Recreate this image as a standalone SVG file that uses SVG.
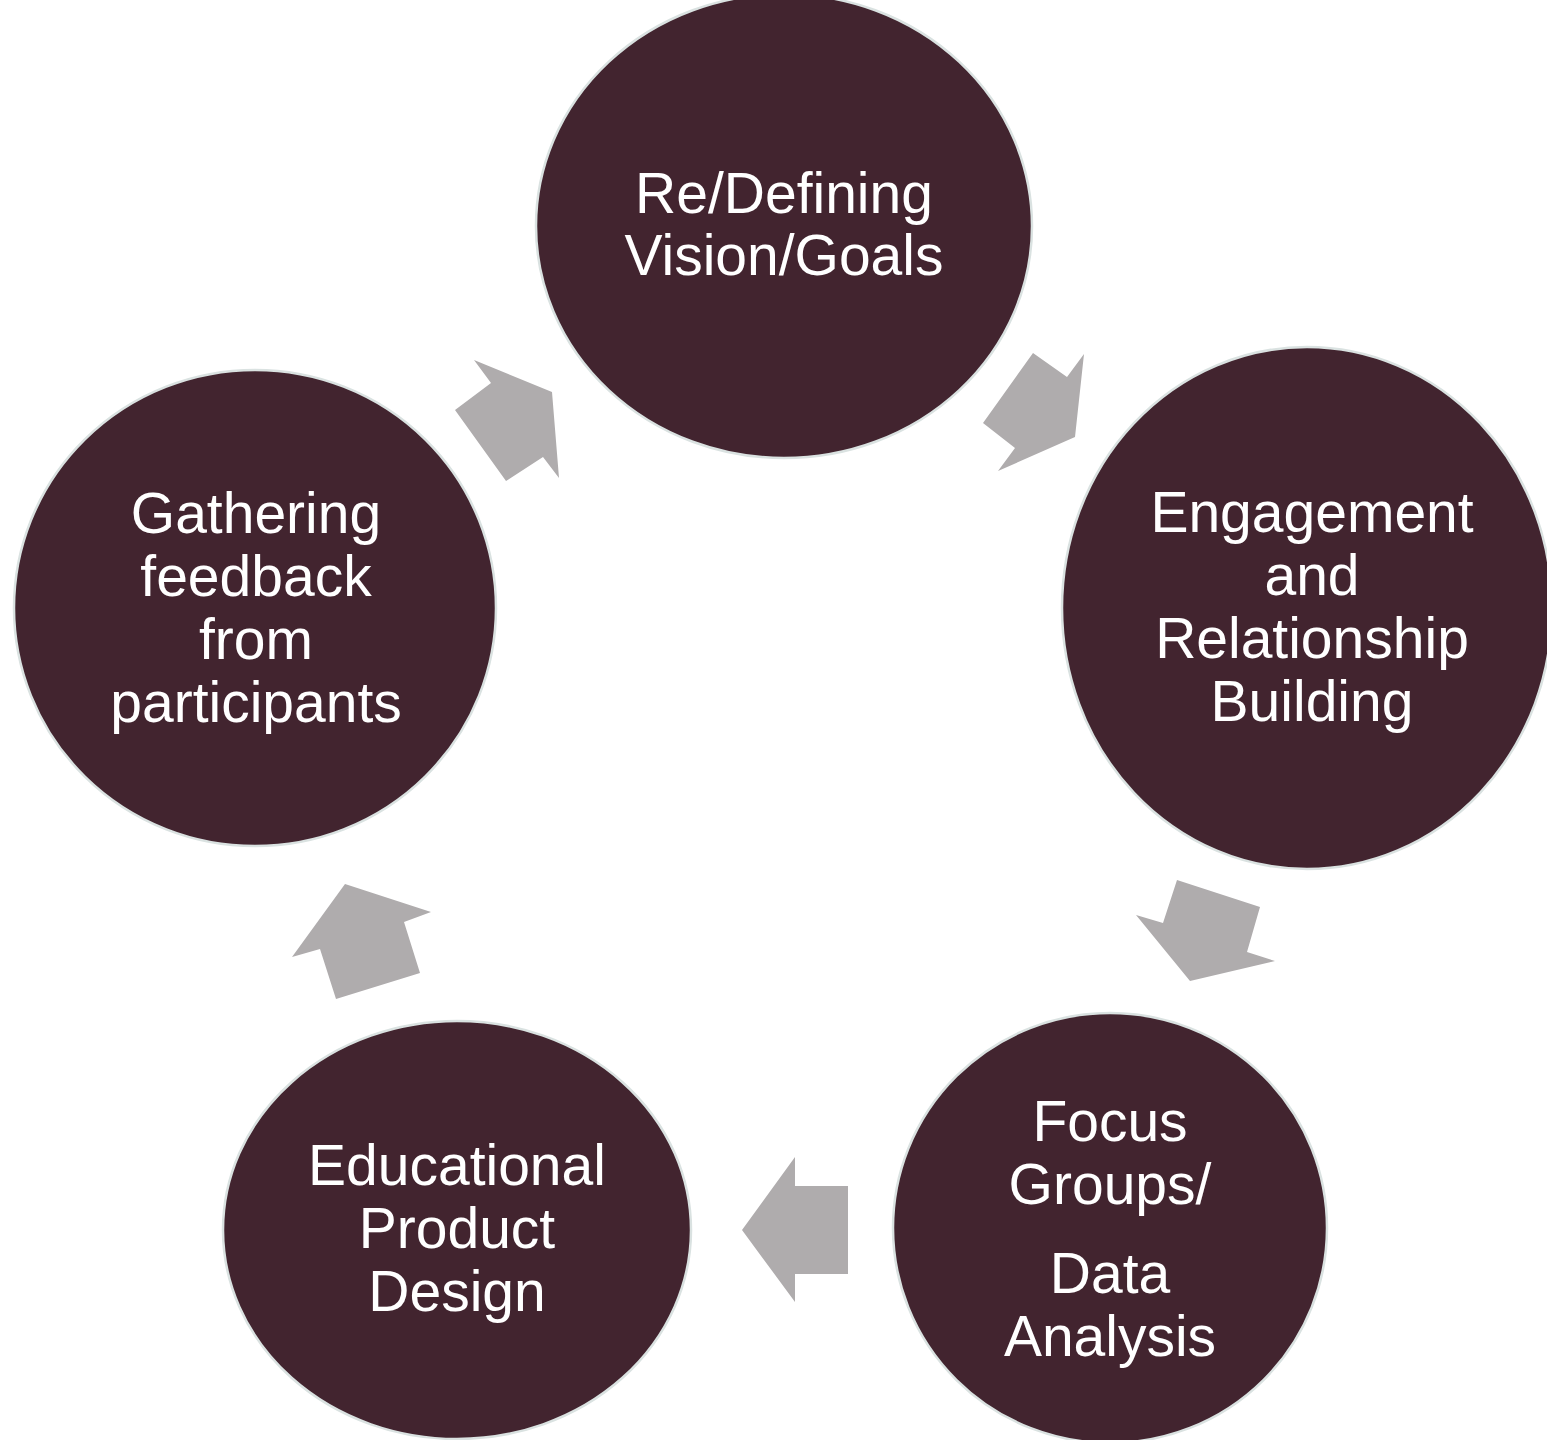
<svg xmlns="http://www.w3.org/2000/svg" width="1547" height="1440" viewBox="0 0 1547 1440">
  <style>
    .node { fill: #42242f; stroke: #dae2e1; stroke-width: 2.5; }
    .label { font-family: "Liberation Sans", Arial, sans-serif; font-size: 57px; fill: #ffffff; text-anchor: middle; }
    .arrow { fill: #afacad; stroke: none; }
  </style>
  <rect width="1547" height="1440" fill="#ffffff"/>

  <!-- cycle arrows between the stages -->
  <g id="connectors">
    <polygon class="arrow" points="474,360 552,392 559,478 543,457 506,481 455,410 491,383"/>
    <polygon class="arrow" points="1033,353 1067,377 1084,354 1075,437 998,471 1015,448 983,423"/>
    <polygon class="arrow" points="1177,880 1260,907 1247,952 1275,961 1190,981 1136,915 1163,923"/>
    <polygon class="arrow" points="795,1157 795,1186 848,1186 848,1274 795,1274 795,1302 742,1230"/>
    <polygon class="arrow" points="345,884 431,912 404,922 420,973 336,999 320,949 292,957"/>
  </g>

  <g id="node-vision">
    <ellipse class="node" cx="784" cy="226" rx="248" ry="232"/>
    <text class="label" x="784" y="213">Re/Defining</text>
    <text class="label" x="784" y="275">Vision/Goals</text>
  </g>

  <g id="node-engagement">
    <ellipse class="node" cx="1307" cy="608" rx="245" ry="261"/>
    <text class="label" x="1312" y="532">Engagement</text>
    <text class="label" x="1312" y="595">and</text>
    <text class="label" x="1312" y="658">Relationship</text>
    <text class="label" x="1312" y="721">Building</text>
  </g>

  <g id="node-focus">
    <ellipse class="node" cx="1110" cy="1228" rx="217" ry="215"/>
    <text class="label" x="1110" y="1141">Focus</text>
    <text class="label" x="1110" y="1204">Groups/</text>
    <text class="label" x="1110" y="1293">Data</text>
    <text class="label" x="1110" y="1356">Analysis</text>
  </g>

  <g id="node-design">
    <ellipse class="node" cx="457" cy="1230" rx="234" ry="209"/>
    <text class="label" x="457" y="1185">Educational</text>
    <text class="label" x="457" y="1248">Product</text>
    <text class="label" x="457" y="1311">Design</text>
  </g>

  <g id="node-feedback">
    <ellipse class="node" cx="255" cy="608" rx="241" ry="238"/>
    <text class="label" x="256" y="533">Gathering</text>
    <text class="label" x="256" y="596">feedback</text>
    <text class="label" x="256" y="659">from</text>
    <text class="label" x="256" y="722">participants</text>
  </g>
</svg>
